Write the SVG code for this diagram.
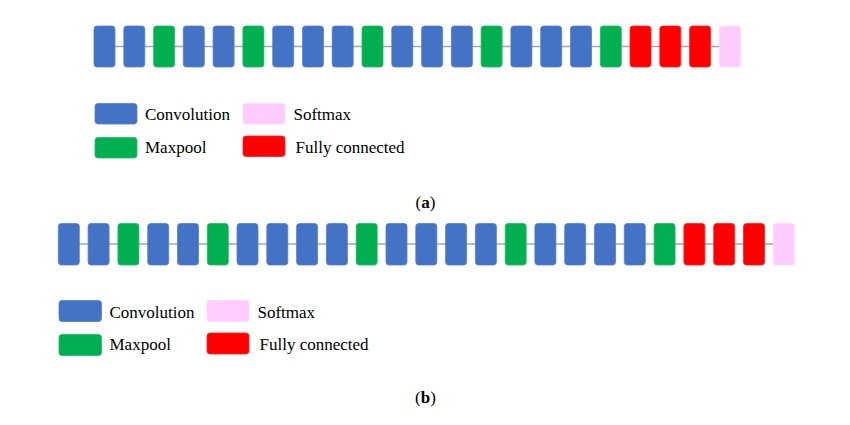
<svg xmlns="http://www.w3.org/2000/svg" width="850" height="425" viewBox="0 0 850 425">
<style>
.c{fill:#4472C4;stroke:#5580CC;stroke-width:0.8}
.m{fill:#00B050;stroke:#22BB66;stroke-width:0.8}
.f{fill:#FF0000;stroke:#FF2222;stroke-width:0.8}
.s{fill:#FFCCFF;stroke:#FFD6FF;stroke-width:0.8}
.ln{stroke:#A6A6A6;stroke-width:1.3;fill:none}
text{font-family:"Liberation Serif","Times New Roman",serif;font-size:17px;fill:#000}
.cap{font-size:17px;text-anchor:middle}
</style>
<rect width="850" height="425" fill="#fff"/>
<g id="connectors">
<line class="ln" x1="104" y1="46.5" x2="730" y2="46.5"/>
<line class="ln" x1="68" y1="244" x2="784" y2="244"/>
</g>
<g id="net-a">
<g id="a1"><rect class="c" x="94.0" y="26" width="21" height="41" rx="3"/></g>
<g id="a2"><rect class="c" x="123.8" y="26" width="21" height="41" rx="3"/></g>
<g id="a3"><rect class="m" x="153.6" y="26" width="21" height="41" rx="3"/></g>
<g id="a4"><rect class="c" x="183.3" y="26" width="21" height="41" rx="3"/></g>
<g id="a5"><rect class="c" x="213.1" y="26" width="21" height="41" rx="3"/></g>
<g id="a6"><rect class="m" x="242.9" y="26" width="21" height="41" rx="3"/></g>
<g id="a7"><rect class="c" x="272.7" y="26" width="21" height="41" rx="3"/></g>
<g id="a8"><rect class="c" x="302.5" y="26" width="21" height="41" rx="3"/></g>
<g id="a9"><rect class="c" x="332.2" y="26" width="21" height="41" rx="3"/></g>
<g id="a10"><rect class="m" x="362.0" y="26" width="21" height="41" rx="3"/></g>
<g id="a11"><rect class="c" x="391.8" y="26" width="21" height="41" rx="3"/></g>
<g id="a12"><rect class="c" x="421.6" y="26" width="21" height="41" rx="3"/></g>
<g id="a13"><rect class="c" x="451.4" y="26" width="21" height="41" rx="3"/></g>
<g id="a14"><rect class="m" x="481.1" y="26" width="21" height="41" rx="3"/></g>
<g id="a15"><rect class="c" x="510.9" y="26" width="21" height="41" rx="3"/></g>
<g id="a16"><rect class="c" x="540.7" y="26" width="21" height="41" rx="3"/></g>
<g id="a17"><rect class="c" x="570.5" y="26" width="21" height="41" rx="3"/></g>
<g id="a18"><rect class="m" x="600.3" y="26" width="21" height="41" rx="3"/></g>
<g id="a19"><rect class="f" x="630.0" y="26" width="21" height="41" rx="3"/></g>
<g id="a20"><rect class="f" x="659.8" y="26" width="21" height="41" rx="3"/></g>
<g id="a21"><rect class="f" x="689.6" y="26" width="21" height="41" rx="3"/></g>
<g id="a22"><rect class="s" x="719.4" y="26" width="21" height="41" rx="3"/></g>
</g>
<g id="legend-a">
<g id="la-conv"><rect class="c" x="95" y="103.5" width="42" height="20.5" rx="3"/><text x="145" y="120">Convolution</text></g>
<g id="la-soft"><rect class="s" x="243" y="103.5" width="42" height="20.5" rx="3"/><text x="293.5" y="120">Softmax</text></g>
<g id="la-max"><rect class="m" x="95" y="137.5" width="42" height="20.5" rx="3"/><text x="145" y="152.5">Maxpool</text></g>
<g id="la-fc"><rect class="f" x="243" y="136" width="42" height="20.5" rx="3"/><text x="295.5" y="152.5">Fully connected</text></g>
</g>
<g id="cap-a"><text class="cap" x="425.5" y="208">(<tspan font-weight="bold">a</tspan>)</text></g>
<g id="net-b">
<g id="b1"><rect class="c" x="58.3" y="223.5" width="21" height="41.5" rx="3"/></g>
<g id="b2"><rect class="c" x="88.1" y="223.5" width="21" height="41.5" rx="3"/></g>
<g id="b3"><rect class="m" x="117.9" y="223.5" width="21" height="41.5" rx="3"/></g>
<g id="b4"><rect class="c" x="147.7" y="223.5" width="21" height="41.5" rx="3"/></g>
<g id="b5"><rect class="c" x="177.5" y="223.5" width="21" height="41.5" rx="3"/></g>
<g id="b6"><rect class="m" x="207.3" y="223.5" width="21" height="41.5" rx="3"/></g>
<g id="b7"><rect class="c" x="237.0" y="223.5" width="21" height="41.5" rx="3"/></g>
<g id="b8"><rect class="c" x="266.8" y="223.5" width="21" height="41.5" rx="3"/></g>
<g id="b9"><rect class="c" x="296.6" y="223.5" width="21" height="41.5" rx="3"/></g>
<g id="b10"><rect class="c" x="326.4" y="223.5" width="21" height="41.5" rx="3"/></g>
<g id="b11"><rect class="m" x="356.2" y="223.5" width="21" height="41.5" rx="3"/></g>
<g id="b12"><rect class="c" x="386.0" y="223.5" width="21" height="41.5" rx="3"/></g>
<g id="b13"><rect class="c" x="415.8" y="223.5" width="21" height="41.5" rx="3"/></g>
<g id="b14"><rect class="c" x="445.6" y="223.5" width="21" height="41.5" rx="3"/></g>
<g id="b15"><rect class="c" x="475.4" y="223.5" width="21" height="41.5" rx="3"/></g>
<g id="b16"><rect class="m" x="505.2" y="223.5" width="21" height="41.5" rx="3"/></g>
<g id="b17"><rect class="c" x="534.9" y="223.5" width="21" height="41.5" rx="3"/></g>
<g id="b18"><rect class="c" x="564.7" y="223.5" width="21" height="41.5" rx="3"/></g>
<g id="b19"><rect class="c" x="594.5" y="223.5" width="21" height="41.5" rx="3"/></g>
<g id="b20"><rect class="c" x="624.3" y="223.5" width="21" height="41.5" rx="3"/></g>
<g id="b21"><rect class="m" x="654.1" y="223.5" width="21" height="41.5" rx="3"/></g>
<g id="b22"><rect class="f" x="683.9" y="223.5" width="21" height="41.5" rx="3"/></g>
<g id="b23"><rect class="f" x="713.7" y="223.5" width="21" height="41.5" rx="3"/></g>
<g id="b24"><rect class="f" x="743.5" y="223.5" width="21" height="41.5" rx="3"/></g>
<g id="b25"><rect class="s" x="773.3" y="223.5" width="21" height="41.5" rx="3"/></g>
</g>
<g id="legend-b">
<g id="lb-conv"><rect class="c" x="59" y="300.5" width="42.5" height="21" rx="3"/><text x="109.5" y="317.5">Convolution</text></g>
<g id="lb-soft"><rect class="s" x="207" y="300.5" width="42" height="21" rx="3"/><text x="257.5" y="317.5">Softmax</text></g>
<g id="lb-max"><rect class="m" x="59" y="334.5" width="42.5" height="21" rx="3"/><text x="109.5" y="350">Maxpool</text></g>
<g id="lb-fc"><rect class="f" x="207" y="333" width="42" height="21" rx="3"/><text x="259.5" y="350">Fully connected</text></g>
</g>
<g id="cap-b"><text class="cap" x="425.5" y="403">(<tspan font-weight="bold">b</tspan>)</text></g>
</svg>
